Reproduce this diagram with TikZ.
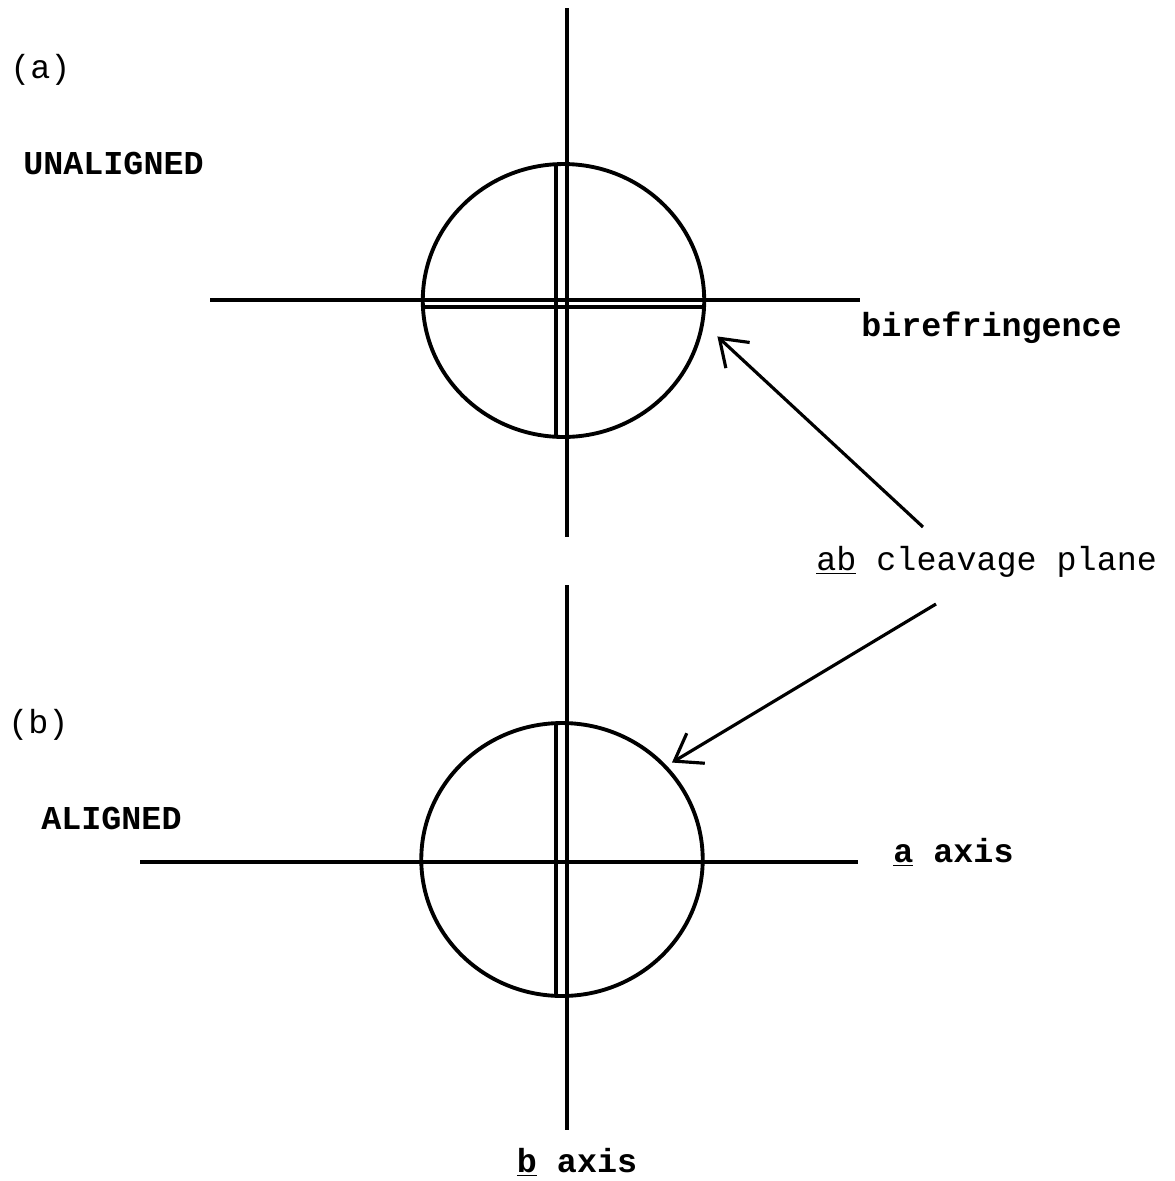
\documentclass[tikz,border=0pt]{standalone}
\usepackage{fontspec}
\setmonofont{Liberation Mono}
\usetikzlibrary{shapes.geometric,arrows.meta}
\tikzset{
    crystal/.style={
        draw,
        ellipse,
        line width=2.2pt,
        inner sep=0pt,
        outer sep=0pt,
        minimum width=5.63cm,
        minimum height=5.46cm
    },
    axisline/.style={
        line width=2pt
    },
    typed/.style={
        font=\ttfamily\fontsize{19}{22}\selectfont,
        inner sep=0pt,
        anchor=west
    },
    typedbold/.style={
        typed,
        font=\ttfamily\bfseries\fontsize{19}{22}\selectfont
    },
    pointer/.style={
        -{Straight Barb[length=5mm,width=7mm]},
        line width=1.8pt
    }
}

\begin{document}
\begin{tikzpicture}[x=0.02cm, y=-0.02cm]
    \useasboundingbox (0,0) rectangle (1175,1181);

    % the two sections
    \node[crystal] (upper) at (563.5,300.5) {};
    \node[crystal] (lower) at (562,859.5) {};

    % b axis, broken between the two
    \draw[axisline] (567,8) -- (567,537);
    \draw[axisline] (567,585) -- (567,1130);

    % a axis and birefringence
    \draw[axisline] (210,300) -- (860,300);
    \draw[axisline] (140,862) -- (858,862);

    % second lines inside the circles
    \draw[axisline] (556,165) -- (556,437);
    \draw[axisline] (424,307) -- (704,307);
    \draw[axisline] (556,723) -- (556,995);

    % labels
    \node[typed] (tagA) at (10,70) {(a)};
    \node[typedbold] (unaligned) at (23,163) {UNALIGNED};
    \node[typedbold] (biref) at (861,328) {birefringence};
    \node[typed] (cleavage) at (816,562) {\underline{ab} cleavage plane};
    \node[typed] (tagB) at (8,725) {(b)};
    \node[typedbold] (aligned) at (41,818) {ALIGNED};
    \node[typedbold] (aaxis) at (893,852) {\underline{a} axis};
    \node[typedbold, anchor=center] (baxis) at (577,1162) {\underline{b} axis};

    % pointers to the cleavage plane
    \coordinate (tailA) at (923,527);
    \coordinate (tailB) at (936,604);
    \draw[pointer, shorten >=0.41cm] (tailA) -- (upper.-9);
    \draw[pointer, shorten >=0.16cm] (tailB) -- (lower.42);

\end{tikzpicture}
\end{document}
